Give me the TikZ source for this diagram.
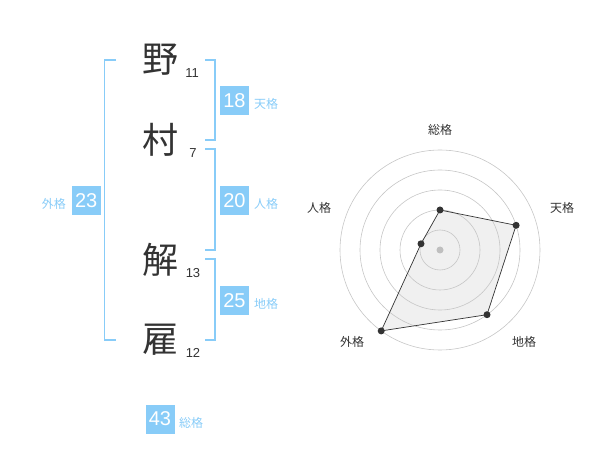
\documentclass[tikz,border=0pt]{standalone}
\usepackage{fontspec}
\setmainfont{Liberation Sans}
\newfontfamily\cjk{Noto Sans CJK JP}
\definecolor{lblue}{HTML}{88CCF8}
\definecolor{dgray}{HTML}{333333}
\begin{document}
\begin{tikzpicture}[x=1pt,y=-1pt,
  kanji/.style={font=\cjk\fontsize{36}{36}\selectfont,text=dgray,inner sep=0},
  strokes/.style={font=\fontsize{13}{13}\selectfont,text=dgray,inner sep=0},
  numbox/.style={fill=lblue,text=white,minimum size=29pt,inner sep=0,font=\fontsize{20}{20}\selectfont},
  blabel/.style={font=\cjk\fontsize{12}{12}\selectfont,text=lblue,inner sep=0},
  rlabel/.style={font=\cjk\fontsize{12}{12}\selectfont,text=dgray,inner sep=0},
  brk/.style={draw=lblue,line width=1.7pt},
  ring/.style={draw=gray!45,line width=0.6pt},
  dot/.style={circle,fill=dgray,inner sep=0,minimum size=7pt}]
\useasboundingbox (0,0) rectangle (600,470);
% kanji
\node[kanji] (k1) at (160,60) {野};
\node[kanji] (k2) at (160,140) {村};
\node[kanji] (k3) at (160,260) {解};
\node[kanji] (k4) at (160,340) {雇};
\node[strokes] (s1) at (192,73) {11};
\node[strokes] (s2) at (193,153) {7};
\node[strokes] (s3) at (193,273) {13};
\node[strokes] (s4) at (193,353) {12};
% brackets
\draw[brk] (116,60) -- (104.5,60) -- (104.5,340) -- (116,340);
\draw[brk] (205,60) -- (215,60) -- (215,140) -- (205,140);
\draw[brk] (205,149) -- (215,149) -- (215,250) -- (205,250);
\draw[brk] (205,259) -- (215,259) -- (215,340) -- (205,340);
% boxes
\node[numbox] (b18) at (234.5,100.5) {18};
\node[blabel,anchor=west] (l18) at (254,104) {天格};
\node[numbox] (b20) at (234.5,200.5) {20};
\node[blabel,anchor=west] (l20) at (254,204) {人格};
\node[numbox] (b25) at (234.5,300.5) {25};
\node[blabel,anchor=west] (l25) at (254,304) {地格};
\node[numbox] (b23) at (86.2,200.5) {23};
\node[blabel,anchor=east] (l23) at (66,204) {外格};
\node[numbox] (b43) at (160,419) {43};
\node[blabel,anchor=west] (l43) at (179,423) {総格};
% radar
\coordinate (c) at (440,250);
\coordinate (p1) at (440,210);
\coordinate (p2) at (516.1,225.3);
\coordinate (p3) at (487.0,314.7);
\coordinate (p4) at (381.2,330.9);
\coordinate (p5) at (421.0,243.8);
\fill[gray!12] (p1) -- (p2) -- (p3) -- (p4) -- (p5) -- cycle;
\foreach \r in {20,40,60,80,100} \draw[ring] (c) circle (\r);
\fill[gray!50] (c) circle (3.5);
\draw[dgray,line width=0.7pt] (p1) -- (p2) -- (p3) -- (p4) -- (p5) -- cycle;
\foreach \p in {p1,p2,p3,p4,p5} \node[dot] at (\p) {};
\node[rlabel] (r1) at (440,130) {総格};
\node[rlabel] (r2) at (562,208) {天格};
\node[rlabel] (r3) at (524,342) {地格};
\node[rlabel] (r4) at (352,342) {外格};
\node[rlabel] (r5) at (319,208) {人格};
\end{tikzpicture}
\end{document}
